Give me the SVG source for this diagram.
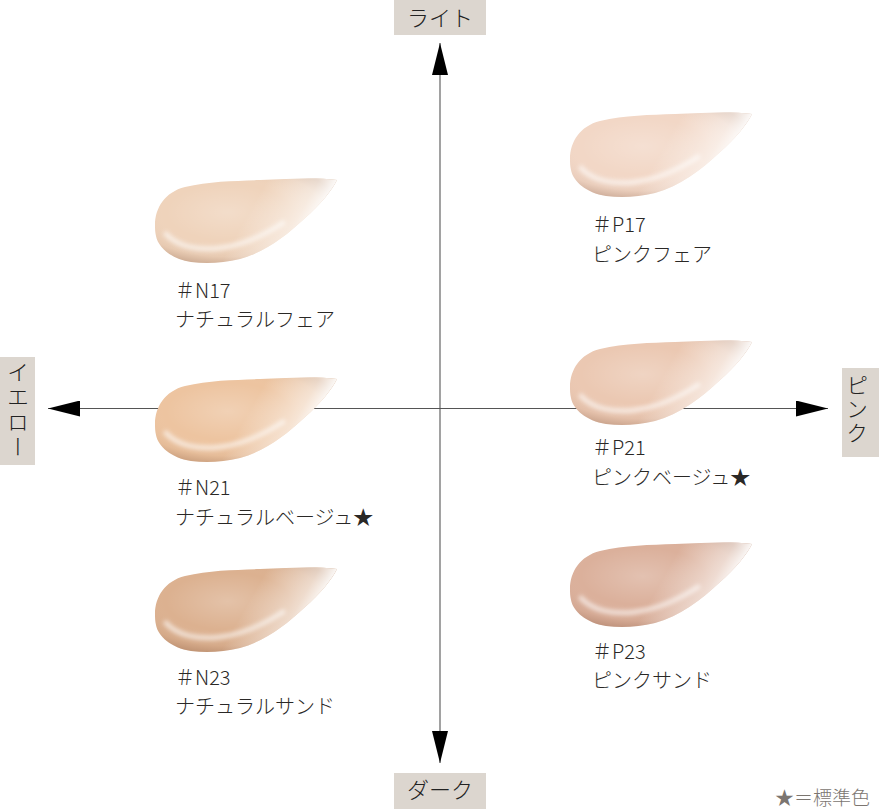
<svg xmlns="http://www.w3.org/2000/svg" width="879" height="809" viewBox="0 0 879 809">
  <style>
    .lbl { font-family: "Noto Sans CJK JP", "Noto Sans", sans-serif; font-size: 20px; fill: #2a2826; font-weight: 300; }
    .axis-box { fill: #dcd6cf; }
    .axis-txt { font-family: "Noto Sans CJK JP", "Noto Sans", sans-serif; font-size: 22px; fill: #222; font-weight: 300; }
    .axis-line { stroke: #555; stroke-width: 1.1; fill: none; marker-end: url(#arrow); }
    .legend { font-family: "Noto Sans CJK JP", "Noto Sans", sans-serif; font-size: 19px; fill: #7b7570; font-weight: 300; }
    .hl { fill: none; stroke: #fff; stroke-width: 5; stroke-linecap: round; opacity: 0.6; filter: url(#soft); }
  </style>
  <defs>
    <marker id="arrow" viewBox="0 0 32 16" markerWidth="32" markerHeight="16" refX="32" refY="8" orient="auto" markerUnits="userSpaceOnUse">
      <path d="M0,0 L32,8 L0,16 Z" fill="#000"/>
    </marker>
    <path id="blob" d="M 0,47 C 0,30 10,14 30,9 C 55,3 80,3 105,2 C 135,1 158,-1 182,2 C 177,12 166,26 149,41 C 131,58 110,74 85,81 C 68,85 52,86 36,84 C 16,81 3,69 1,58 C 0,54 0,50 0,47 Z"/>
    <path id="gloss" d="M 11,56 C 22,68 42,73 65,70 C 88,67 108,58 128,45"/>
    <radialGradient id="shade" cx="0.4" cy="0.4" r="0.62">
      <stop offset="0" stop-color="#fff" stop-opacity="0.22"/>
      <stop offset="0.55" stop-color="#fff" stop-opacity="0"/>
      <stop offset="0.85" stop-color="#6b3a20" stop-opacity="0.06"/>
      <stop offset="1" stop-color="#6b3a20" stop-opacity="0.24"/>
    </radialGradient>
    <linearGradient id="fade" x1="0.62" y1="0" x2="1" y2="0.1">
      <stop offset="0" stop-color="#fff" stop-opacity="0"/>
      <stop offset="0.7" stop-color="#fff" stop-opacity="0.55"/>
      <stop offset="1" stop-color="#fff" stop-opacity="1"/>
    </linearGradient>
    <filter id="soft" x="-20%" y="-50%" width="140%" height="200%">
      <feGaussianBlur stdDeviation="2"/>
    </filter>
  </defs>

  <rect width="879" height="809" fill="#fff"/>

  <g id="connectors">
    <line class="axis-line" x1="440" y1="408.5" x2="440" y2="43"/>
    <line class="axis-line" x1="440" y1="408.5" x2="440" y2="763"/>
    <line class="axis-line" x1="440" y1="408.5" x2="48" y2="408.5"/>
    <line class="axis-line" x1="440" y1="408.5" x2="828" y2="408.5"/>
  </g>

  <g id="axis-light">
    <rect class="axis-box" x="394" y="0" width="92" height="35"/>
    <text class="axis-txt" x="440" y="26" text-anchor="middle">ライト</text>
  </g>
  <g id="axis-dark">
    <rect class="axis-box" x="394" y="773" width="92" height="36"/>
    <text class="axis-txt" x="440" y="798" text-anchor="middle">ダーク</text>
  </g>
  <g id="axis-yellow">
    <rect class="axis-box" x="0" y="357" width="35" height="108"/>
    <text class="axis-txt" x="18" y="411" writing-mode="vertical-rl" text-anchor="middle" letter-spacing="3">イエロー</text>
  </g>
  <g id="axis-pink">
    <rect class="axis-box" x="842" y="368" width="37" height="89"/>
    <text class="axis-txt" x="857" y="410" writing-mode="vertical-rl" text-anchor="middle" letter-spacing="2">ピンク</text>
  </g>

  <g id="N17">
    <g transform="translate(155,178)">
      <use href="#blob" fill="#efd3bb"/>
      <use href="#blob" fill="url(#shade)"/>
      <use href="#gloss" class="hl"/>
      <use href="#blob" fill="url(#fade)"/>
    </g>
    <text class="lbl" x="175" y="298">＃N17</text>
    <text class="lbl" x="175" y="327">ナチュラルフェア</text>
  </g>

  <g id="N21">
    <g transform="translate(155,377)">
      <use href="#blob" fill="#edc4a0"/>
      <use href="#blob" fill="url(#shade)"/>
      <use href="#gloss" class="hl"/>
      <use href="#blob" fill="url(#fade)"/>
    </g>
    <text class="lbl" x="175" y="495">＃N21</text>
    <text class="lbl" x="175" y="525">ナチュラルベージュ★</text>
  </g>

  <g id="N23">
    <g transform="translate(155,567)">
      <use href="#blob" fill="#dcb190"/>
      <use href="#blob" fill="url(#shade)"/>
      <use href="#gloss" class="hl"/>
      <use href="#blob" fill="url(#fade)"/>
    </g>
    <text class="lbl" x="175" y="685">＃N23</text>
    <text class="lbl" x="175" y="714">ナチュラルサンド</text>
  </g>

  <g id="P17">
    <g transform="translate(570,112)">
      <use href="#blob" fill="#f2d7c6"/>
      <use href="#blob" fill="url(#shade)"/>
      <use href="#gloss" class="hl"/>
      <use href="#blob" fill="url(#fade)"/>
    </g>
    <text class="lbl" x="592" y="232">＃P17</text>
    <text class="lbl" x="592" y="262">ピンクフェア</text>
  </g>

  <g id="P21">
    <g transform="translate(570,340)">
      <use href="#blob" fill="#ebc8b2"/>
      <use href="#blob" fill="url(#shade)"/>
      <use href="#gloss" class="hl"/>
      <use href="#blob" fill="url(#fade)"/>
    </g>
    <text class="lbl" x="592" y="455">＃P21</text>
    <text class="lbl" x="592" y="485">ピンクベージュ★</text>
  </g>

  <g id="P23">
    <g transform="translate(570,542)">
      <use href="#blob" fill="#dbb09b"/>
      <use href="#blob" fill="url(#shade)"/>
      <use href="#gloss" class="hl"/>
      <use href="#blob" fill="url(#fade)"/>
    </g>
    <text class="lbl" x="592" y="659">＃P23</text>
    <text class="lbl" x="592" y="688">ピンクサンド</text>
  </g>

  <g id="legend">
    <text class="legend" x="775" y="805">★＝標準色</text>
  </g>
</svg>
